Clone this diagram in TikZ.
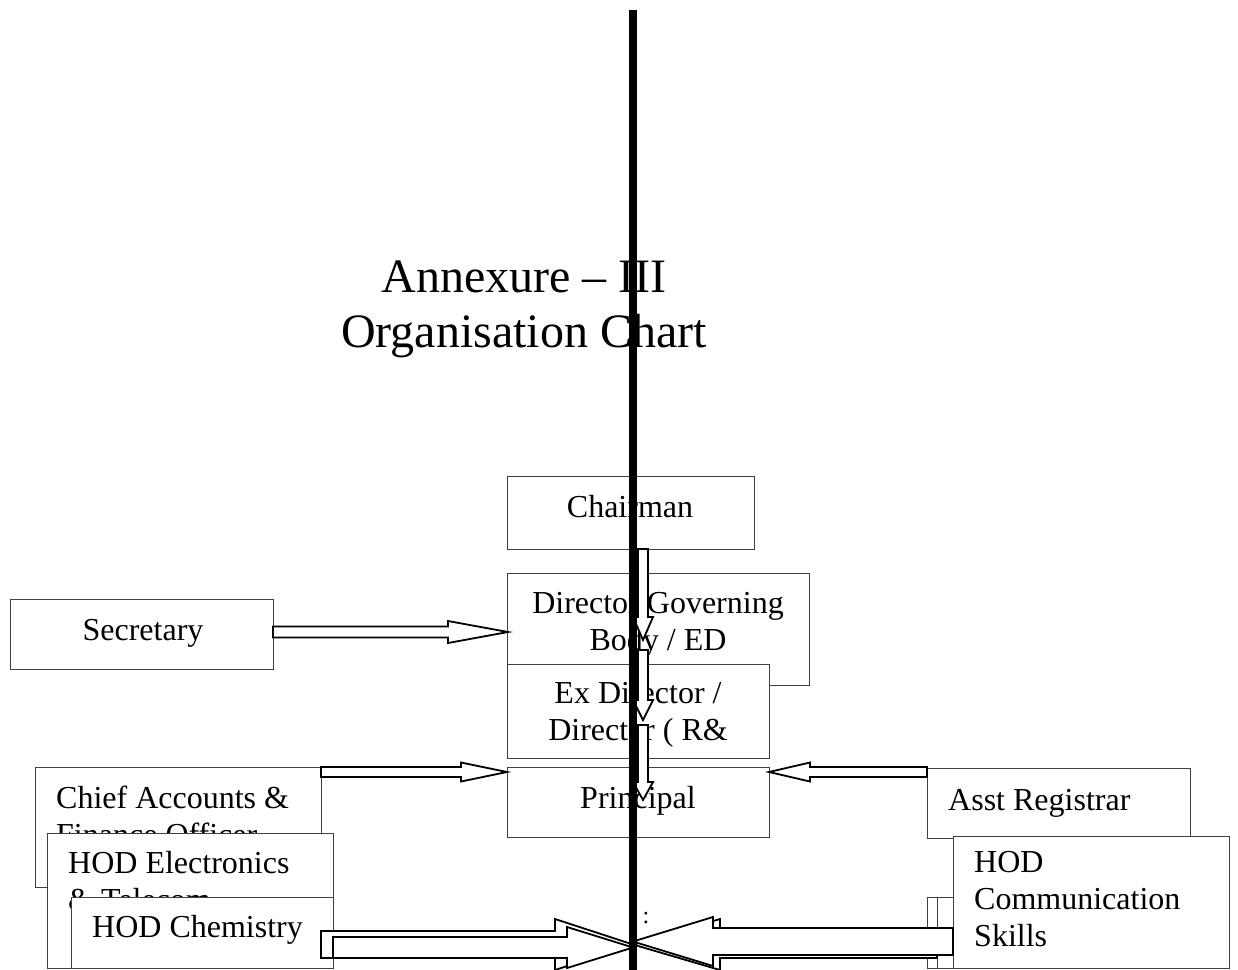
\documentclass[tikz,border=0pt]{standalone}
\usepackage{fontspec}
\setmainfont{Liberation Serif}
\usetikzlibrary{calc}
\tikzset{
  box/.style={draw=black!75, line width=1pt, fill=white, anchor=north west, inner sep=0pt, outer sep=0pt},
  lbl/.style={inner sep=0pt, anchor=base, font=\fontsize{32}{37}\selectfont},
  lbll/.style={lbl, anchor=base west},
  ttl/.style={inner sep=0pt, anchor=base, font=\fontsize{48}{55}\selectfont},
  arr/.style={draw=black, line width=1.8pt, fill=white, line join=miter},
  spine/.style={line width=8pt, black}
}
% horizontal block arrow: start, tip, shaft half, head half, signed head length
\newcommand{\hblk}[5]{%
  \path[arr] let \p1=#1, \p2=#2 in
    (\x1,{\y2+#3}) -- ({\x2-(#5)},{\y2+#3}) -- ({\x2-(#5)},{\y2+#4}) -- (\x2,\y2)
    -- ({\x2-(#5)},{\y2-#4}) -- ({\x2-(#5)},{\y2-#3}) -- (\x1,{\y2-#3}) -- cycle;}
% vertical (downward) block arrow
\newcommand{\vblk}[5]{%
  \path[arr] let \p1=#1, \p2=#2 in
    ({\x2-#3},\y1) -- ({\x2-#3},{\y2+#5}) -- ({\x2-#4},{\y2+#5}) -- (\x2,\y2)
    -- ({\x2+#4},{\y2+#5}) -- ({\x2+#3},{\y2+#5}) -- ({\x2+#3},\y1) -- cycle;}
\begin{document}
\begin{tikzpicture}[x=1pt,y=-1pt]
\useasboundingbox (0,0) rectangle (1238,969);
\fill[white] (0,0) rectangle (1238,969);

% title
\node[ttl] (t1) at (524,292) {Annexure -- III};
\node[ttl] (t2) at (524,347) {Organisation Chart};

% centre column
\node[box, minimum width=247pt, minimum height=73pt] (chair) at (507,476) {};
\node[lbl] (chairT) at (630,517) {Chairman};
\node[box, minimum width=302pt, minimum height=112pt] (dgb) at (507,573) {};
\node[lbl] (dgbT1) at (658,613) {Director Governing};
\node[lbl] (dgbT2) at (658,650) {Body / ED};
\node[box, minimum width=262pt, minimum height=94pt] (exd) at (507,664) {};
\node[lbl] (exdT1) at (638,703) {Ex Director /};
\node[lbl] (exdT2) at (638,740) {Director ( R\&};
\node[box, minimum width=262pt, minimum height=70pt] (prin) at (507,767) {};
\node[lbl] (prinT) at (638,808) {Principal};

% left
\node[box, minimum width=263pt, minimum height=70pt] (sec) at (10,599) {};
\node[lbl] (secT) at (143,640) {Secretary};
\node[box, minimum width=286pt, minimum height=120pt] (chief) at (35,767) {};
\node[lbll] (chiefT1) at (56,808) {Chief Accounts \&};
\node[lbll] (chiefT2) at (56,845) {Finance Officer};
\node[box, minimum width=286pt, minimum height=135pt] (hode) at (47,833) {};
\node[lbll] (hodeT1) at (68,873) {HOD Electronics};
\node[lbll] (hodeT2) at (68,910) {\& Telecom};
\node[box, minimum width=262pt, minimum height=71pt] (hodc) at (71,897) {};
\node[lbll] (hodcT) at (92,937) {HOD Chemistry};

% right
\node[box, minimum width=263pt, minimum height=70pt] (asst) at (927,768) {};
\node[lbll] (asstT) at (948,810) {Asst Registrar};
\node[box, minimum width=263pt, minimum height=71pt] (hid1) at (927,897) {};
\node[box, minimum width=253pt, minimum height=71pt] (hid2) at (937,897) {};
\node[box, minimum width=276pt, minimum height=132pt] (comm) at (953,836) {};
\node[lbll] (commT1) at (974,872) {HOD};
\node[lbll] (commT2) at (974,909) {Communication};
\node[lbll] (commT3) at (974,946) {Skills};

% connector end points
\coordinate (secTip) at (508,632);
\coordinate (prinL) at (507,772);
\coordinate (prinR) at (769,772);
\coordinate (v1t) at (643,640);
\coordinate (v2s) at (643,650);
\coordinate (v2t) at (643,720);
\coordinate (v3s) at (643,725);
\coordinate (v3t) at (643,800);
\coordinate (aS) at (321,944.5);
\coordinate (meetA) at (633,944.5);
\coordinate (meetB) at (633,947.5);
\coordinate (meetC) at (633,941.5);

% horizontal arrows
\hblk{(sec.east)}{(secTip)}{5.5pt}{11pt}{60pt}
\hblk{(chief.east)}{(prinL)}{5pt}{9.5pt}{46pt}
\hblk{(asst.west)}{(prinR)}{5pt}{9.5pt}{-41pt}

% vertical arrows
\vblk{(chair.south)}{(v1t)}{5pt}{10pt}{23pt}
\vblk{(v2s)}{(v2t)}{5pt}{10pt}{20pt}
\vblk{(v3s)}{(v3t)}{5pt}{10pt}{18pt}

% bottom arrows
\hblk{(aS)}{(meetA)}{13.5pt}{25.5pt}{78pt}
\hblk{(hodc.east)}{(meetB)}{10.5pt}{20.5pt}{66pt}
\hblk{(hid2.west)}{(meetA)}{13.5pt}{25.5pt}{-87pt}
\hblk{(comm.west)}{(meetC)}{13.5pt}{24.5pt}{-80pt}

% thick vertical line
\coordinate (lineTop) at (633,10);
\coordinate (lineBot) at (633,975);
\draw[spine] (lineTop) -- (lineBot);

\node[inner sep=0pt, font=\fontsize{24}{24}\selectfont] (colon) at (646,918) {:};
\end{tikzpicture}
\end{document}
